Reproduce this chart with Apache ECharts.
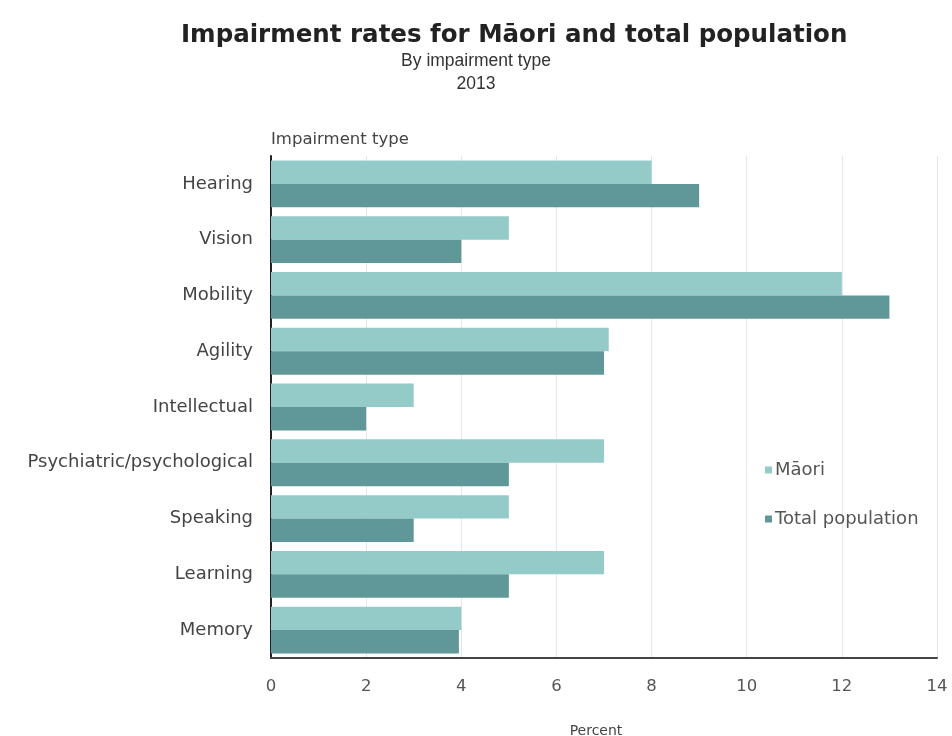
<!DOCTYPE html>
<html><head><meta charset="utf-8">
<script src="https://cdn.jsdelivr.net/npm/echarts@6/dist/echarts.min.js"></script>
<style>html,body{margin:0;padding:0;background:#fff}#c{width:952px;height:736px}</style>
</head><body><div id="c"></div>
<script>
const categories = ["Hearing","Vision","Mobility","Agility","Intellectual","Psychiatric/psychological","Speaking","Learning","Memory"];
const maori = [8, 5, 12, 7.1, 3, 7, 5, 7, 4];
const total = [9, 4, 13, 7, 2, 5, 3, 5, 3.95];
const xTicks = [0, 2, 4, 6, 8, 10, 12, 14];

const FONT = 'DejaVu Sans, Verdana, sans-serif';
const chart = echarts.init(document.getElementById('c'));
chart.setOption({
  backgroundColor: '#fff',
  animation: false,
  title: [
    {text: 'Impairment rates for Māori and total population', left: 176, top: 18,
     textStyle: {fontFamily: FONT, fontSize: 24.5, fontWeight: 'bold', color: '#222'}},
    {text: 'By impairment type', left: 'center', top: 47,
     textStyle: {fontFamily: 'Liberation Sans, Arial', fontSize: 17.5, fontWeight: 'normal', color: '#333'}},
    {text: '2013', left: 'center', top: 70,
     textStyle: {fontFamily: 'Liberation Sans, Arial', fontSize: 17.5, fontWeight: 'normal', color: '#333'}}
  ],
  legend: {
    orient: 'vertical', left: 760, top: 456, itemGap: 31,
    itemWidth: 7, itemHeight: 7, icon: 'rect',
    textStyle: {fontFamily: FONT, fontSize: 18, color: '#555', padding: [0,0,0,-2]},
    data: ['Māori', 'Total population']
  },
  grid: {left: 271, right: 15, top: 156, bottom: 78, containLabel: false, outerBoundsMode: 'none'},
  xAxis: {
    type: 'value', min: 0, max: 14, interval: 2,
    name: 'Percent', nameLocation: 'middle', nameGap: 66,
    nameTextStyle: {fontFamily: FONT, fontSize: 14, color: '#444', padding: [0, 16, 0, 0]},
    axisLine: {show: true, lineStyle: {color: '#444', width: 2}},
    axisTick: {show: false},
    axisLabel: {fontFamily: FONT, fontSize: 16.5, color: '#555', margin: 20,
      formatter: v => xTicks.includes(v) ? String(v) : ''},
    splitLine: {show: true, lineStyle: {color: '#e6e6e6', width: 1}}
  },
  yAxis: {
    type: 'category', data: categories, inverse: true,
    name: 'Impairment type', nameLocation: 'start',
    nameTextStyle: {fontFamily: FONT, fontSize: 16.5, color: '#444', align: 'left'},
    nameGap: 8,
    axisLine: {show: true, lineStyle: {color: '#222', width: 2}},
    axisTick: {show: false},
    axisLabel: {fontFamily: FONT, fontSize: 18, color: '#444', margin: 18}
  },
  series: [
    {name: 'Māori', type: 'bar', data: maori, barGap: '0%', barCategoryGap: '16%',
     itemStyle: {color: '#94cbc9'}},
    {name: 'Total population', type: 'bar', data: total, barGap: '0%', barCategoryGap: '16%',
     itemStyle: {color: '#609899'}}
  ]
});
</script></body></html>
